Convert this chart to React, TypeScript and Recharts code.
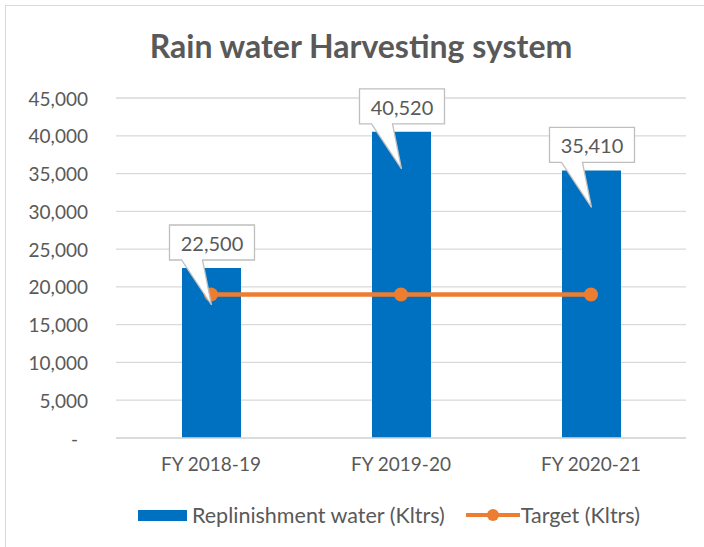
import { ComposedChart, Bar, Line, XAxis, YAxis, CartesianGrid, LabelList } from "recharts";

const years = ["FY 2018-19", "FY 2019-20", "FY 2020-21"];
const replenished = [22500, 40520, 35410];
const target = [19000, 19000, 19000];
const yTicks = [0, 5000, 10000, 15000, 20000, 25000, 30000, 35000, 40000, 45000];

const data = years.map((fy, i) => ({ fy, water: replenished[i], target: target[i] }));

const BLUE = "#0070C0";
const ORANGE = "#ED7D31";
const TXT = "#595959";
const FONT = "Lato, 'Open Sans', sans-serif";

const fmt = (v: number) => v.toLocaleString("en-US");

// Excel-style callout bubble pointing down into the bar
const Callout = (props: any) => {
  const { x, y, value } = props;
  if (x == null || y == null) return null;
  const cx = x;
  const L = cx - 41.5, R = cx + 43.5, T = y - 43, B = y - 8;
  const d = `M${L},${T} H${R} V${B} H${cx - 8.5} L${cx + 0.5},${y + 37} L${cx - 29.5},${B} H${L} Z`;
  return (
    <g>
      <path d={d} fill="#fff" stroke="#BFBFBF" strokeWidth={1.3} />
      <text x={cx + 1} y={T + 18} textAnchor="middle" dominantBaseline="central"
        fontSize={20} fontFamily={FONT} fill={TXT}>
        {fmt(value)}
      </text>
    </g>
  );
};

const YTick = (props: any) => {
  const { x, y, payload } = props;
  const v = payload.value as number;
  return (
    <text x={v === 0 ? x - 10 : x} y={y} textAnchor="end" dominantBaseline="central"
      fontSize={19} fontFamily={FONT} fill={TXT}>
      {v === 0 ? "-" : fmt(v)}
    </text>
  );
};

export default function App() {
  return (
    <div style={{ position: "relative", width: 704, height: 547, overflow: "hidden", background: "#fff" }}>
      <style>{`body{margin:0}`}</style>
      <div style={{ position: "absolute", left: 5, top: 5, width: 740, height: 600, border: "1.5px solid #D9D9D9" }} />
      <div style={{ position: "absolute", top: 26, left: 0, width: 722, textAlign: "center", fontFamily: FONT,
        fontWeight: "bold", fontSize: 32, color: TXT }}>
        Rain water Harvesting system
      </div>
      <div style={{ position: "absolute", left: 0, top: 0 }}>
        <ComposedChart width={704} height={547} data={data} margin={{ top: 98, right: 18, left: 0, bottom: 79 }}>
          <CartesianGrid vertical={false} stroke="#D9D9D9" strokeWidth={1.3} />
          <XAxis dataKey="fy" tickLine={false} axisLine={{ stroke: "#D9D9D9", strokeWidth: 1.5 }} tickMargin={14}
            tick={{ fill: TXT, fontSize: 19, fontFamily: FONT }} />
          <YAxis width={116} domain={[0, 45000]} ticks={yTicks} interval={0} axisLine={false} tickLine={false}
            tickSize={0} tickMargin={28} tick={<YTick />} />
          <Bar dataKey="water" fill={BLUE} barSize={59} isAnimationActive={false} />
          <Line dataKey="target" stroke={ORANGE} strokeWidth={4.5} isAnimationActive={false}
            dot={{ r: 7, fill: ORANGE, stroke: ORANGE, strokeWidth: 0 }} activeDot={false} />
          <Line dataKey="water" stroke="none" dot={false} activeDot={false} isAnimationActive={false}>
            <LabelList dataKey="water" content={<Callout />} />
          </Line>
        </ComposedChart>
      </div>
      <div style={{ position: "absolute", top: 502, left: 138, display: "flex", alignItems: "center",
        fontFamily: FONT, fontSize: 21.5, color: TXT }}>
        <span style={{ display: "inline-block", width: 49, height: 11, background: BLUE, marginRight: 5 }} />
        <span>Replinishment water (Kltrs)</span>
        <svg width={56} height={16} style={{ marginLeft: 20 }}>
          <line x1={1} y1={8} x2={55} y2={8} stroke={ORANGE} strokeWidth={4} />
          <circle cx={28} cy={8} r={6} fill={ORANGE} />
        </svg>
        <span>Target (Kltrs)</span>
      </div>
    </div>
  );
}
